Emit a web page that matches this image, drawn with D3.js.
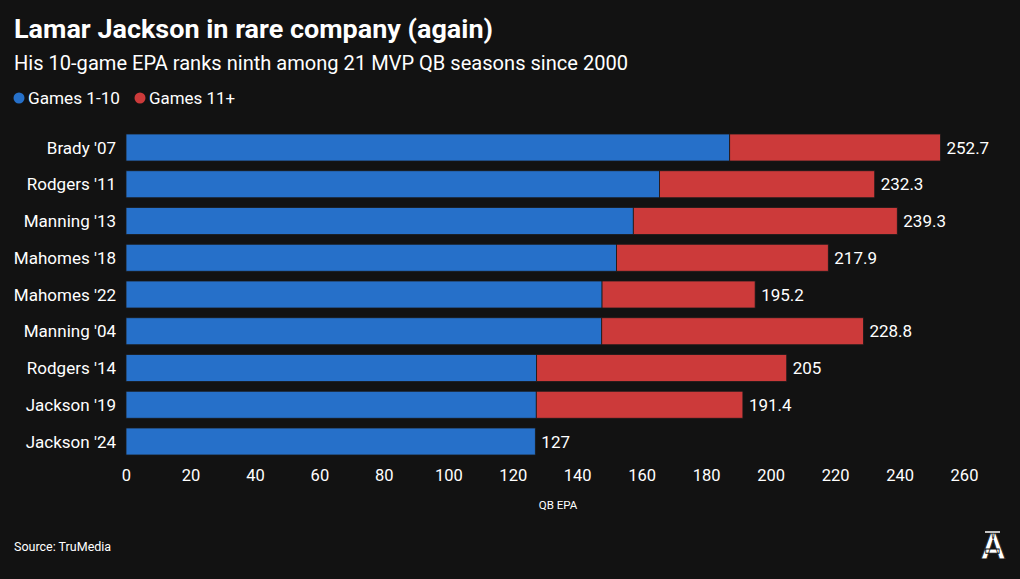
<!DOCTYPE html>
<html>
<head>
<meta charset="utf-8">
<script src="https://cdn.jsdelivr.net/npm/d3@7"></script>
<style>
  html, body { margin: 0; padding: 0; background: #121212; }
  svg { display: block; }
  text { font-family: Roboto, "Liberation Sans", sans-serif; }
</style>
</head>
<body>
<svg id="chart" width="1020" height="579"></svg>
<script>
const categories = ["Brady '07", "Rodgers '11", "Manning '13", "Mahomes '18", "Mahomes '22", "Manning '04", "Rodgers '14", "Jackson '19", "Jackson '24"];
const games1to10 = [187.3, 165.5, 157.4, 152.2, 147.7, 147.6, 127.4, 127.3, 127];
const games11plus = [65.4, 66.8, 81.9, 65.7, 47.5, 81.2, 77.6, 64.1, 0];
const totalLabels = ["252.7", "232.3", "239.3", "217.9", "195.2", "228.8", "205", "191.4", "127"];
const xTicks = [0, 20, 40, 60, 80, 100, 120, 140, 160, 180, 200, 220, 240, 260];
const seriesNames = ["Games 1-10", "Games 11+"];
const colors = ["#2670c9", "#cc3a3a"];

const svg = d3.select("#chart");
const W = 1020, H = 579;
svg.append("rect").attr("width", W).attr("height", H).attr("fill", "#121212");

// Titles
svg.append("text").attr("x", 14).attr("y", 38)
  .attr("fill", "#fff").attr("font-size", 26).attr("font-weight", 700)
  .attr("textLength", 479).attr("lengthAdjust", "spacingAndGlyphs")
  .text("Lamar Jackson in rare company (again)");
svg.append("text").attr("x", 14).attr("y", 70)
  .attr("fill", "#fff").attr("font-size", 20)
  .attr("textLength", 614).attr("lengthAdjust", "spacingAndGlyphs")
  .text("His 10-game EPA ranks ninth among 21 MVP QB seasons since 2000");

// Legend
const legend = svg.append("g");
const legendX = [19, 140];
const legendLen = [92, 86];
seriesNames.forEach((name, i) => {
  legend.append("circle").attr("cx", legendX[i]).attr("cy", 98).attr("r", 5.5).attr("fill", colors[i]);
  legend.append("text").attr("x", legendX[i] + 9).attr("y", 104)
    .attr("fill", "#fff").attr("font-size", 16)
    .attr("textLength", legendLen[i]).attr("lengthAdjust", "spacingAndGlyphs").text(name);
});

// Scales
const x = d3.scaleLinear().domain([0, 260]).range([126, 964]);
const y = d3.scaleBand().domain(categories).range([134, 455]).paddingInner(0.265).paddingOuter(0);

const data = categories.map((c, i) => ({ cat: c, a: games1to10[i], b: games11plus[i], label: totalLabels[i] }));

const bars = svg.append("g");
bars.selectAll("rect.a").data(data).join("rect").attr("class", "a")
  .attr("x", x(0)).attr("y", d => y(d.cat))
  .attr("width", d => x(d.a) - x(0)).attr("height", y.bandwidth())
  .attr("fill", colors[0]).attr("stroke", "#1a1a1a").attr("stroke-width", 0.8);
bars.selectAll("rect.b").data(data.filter(d => d.b > 0)).join("rect").attr("class", "b")
  .attr("x", d => x(d.a)).attr("y", d => y(d.cat))
  .attr("width", d => x(d.a + d.b) - x(d.a)).attr("height", y.bandwidth())
  .attr("fill", colors[1]).attr("stroke", "#1a1a1a").attr("stroke-width", 0.8);

// Category labels
svg.append("g").selectAll("text").data(data).join("text")
  .attr("x", 116).attr("y", d => y(d.cat) + y.bandwidth() / 2)
  .attr("dy", "0.36em").attr("text-anchor", "end")
  .attr("fill", "#fff").attr("font-size", 17).text(d => d.cat);

// Value labels
svg.append("g").selectAll("text").data(data).join("text")
  .attr("x", d => x(d.a + d.b) + 6).attr("y", d => y(d.cat) + y.bandwidth() / 2)
  .attr("dy", "0.36em").attr("fill", "#fff").attr("font-size", 17).text(d => d.label);

// X axis
const xAxis = d3.axisBottom(x).tickValues(xTicks).tickSize(0).tickPadding(0).tickFormat(d3.format("d"));
const gx = svg.append("g").attr("transform", "translate(0,469)").call(xAxis);
gx.select(".domain").remove();
gx.selectAll("text").attr("fill", "#fff").attr("font-size", 16.5)
  .attr("font-family", "'Liberation Sans Narrow', 'Roboto', sans-serif").attr("dy", "0.71em");

svg.append("text").attr("x", 558).attr("y", 509).attr("text-anchor", "middle")
  .attr("fill", "#fff").attr("font-size", 11.5)
  .attr("font-family", "'Liberation Sans Narrow', 'Roboto', sans-serif").text("QB EPA");

// Source
svg.append("text").attr("x", 14).attr("y", 551).attr("fill", "#fff").attr("font-size", 12.5)
  .attr("font-family", "'Liberation Sans Narrow', 'Roboto', sans-serif").text("Source: TruMedia");

// Logo
const logo = svg.append("g").attr("transform", "translate(993,559)");
logo.append("text").attr("text-anchor", "middle").attr("fill", "#fff")
  .attr("stroke", "#121212").attr("stroke-width", 0.8)
  .attr("font-family", "'DejaVu Serif', serif").attr("font-weight", 700).attr("font-size", 36).text("A");
logo.append("line").attr("x1", -8).attr("x2", 7).attr("y1", -27).attr("y2", -27).attr("stroke", "#fff").attr("stroke-width", 1.5);
</script>
</body>
</html>
